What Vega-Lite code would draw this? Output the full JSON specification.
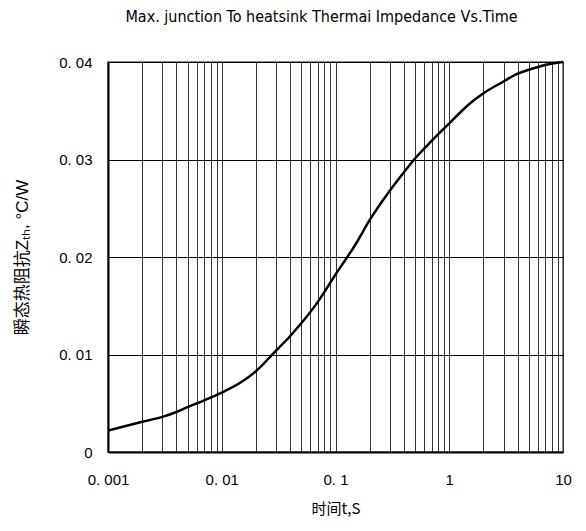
{
  "$schema": "https://vega.github.io/schema/vega-lite/v6.json",
  "width": 455,
  "height": 390,
  "autosize": "none",
  "padding": {"left": 108, "top": 62, "right": 23, "bottom": 79},
  "background": "white",
  "title": {
    "text": "Max. junction To heatsink Thermai Impedance Vs.Time",
    "font": "DejaVu Sans Condensed, Liberation Sans",
    "fontSize": 16,
    "fontWeight": "normal",
    "color": "#000000",
    "anchor": "middle",
    "dx": -14,
    "offset": 30
  },
  "config": {
    "view": {"stroke": "#888888", "strokeWidth": 2},
    "axis": {
      "labelFont": "Liberation Sans",
      "labelFontSize": 15,
      "labelColor": "#000000",
      "titleColor": "#000000",
      "titleFontWeight": "normal",
      "ticks": false,
      "domainColor": "#000000",
      "domainWidth": 2
    }
  },
  "data": {
    "values": [
      {"t": 0.001, "z": 0.0022},
      {"t": 0.002, "z": 0.0031},
      {"t": 0.003, "z": 0.0036},
      {"t": 0.004, "z": 0.0041},
      {"t": 0.005, "z": 0.0046},
      {"t": 0.007, "z": 0.0053},
      {"t": 0.01, "z": 0.0061},
      {"t": 0.015, "z": 0.0072},
      {"t": 0.02, "z": 0.0083},
      {"t": 0.03, "z": 0.0104},
      {"t": 0.04, "z": 0.0119},
      {"t": 0.05, "z": 0.0132},
      {"t": 0.07, "z": 0.0154},
      {"t": 0.1, "z": 0.0182},
      {"t": 0.15, "z": 0.0213},
      {"t": 0.2, "z": 0.0238},
      {"t": 0.3, "z": 0.0268},
      {"t": 0.4, "z": 0.0287},
      {"t": 0.5, "z": 0.0301},
      {"t": 0.7, "z": 0.0319},
      {"t": 1, "z": 0.0337},
      {"t": 1.5, "z": 0.0357},
      {"t": 2, "z": 0.0368},
      {"t": 3, "z": 0.038},
      {"t": 4, "z": 0.0388},
      {"t": 5, "z": 0.0392},
      {"t": 7, "z": 0.0397},
      {"t": 10, "z": 0.04}
    ]
  },
  "mark": {"type": "line", "color": "#000000", "strokeWidth": 2.5, "interpolate": "monotone"},
  "encoding": {
    "x": {
      "field": "t",
      "type": "quantitative",
      "scale": {"type": "log", "domain": [0.001, 10], "nice": false},
      "axis": {
        "title": "时间t,S",
        "titleFont": "Noto Sans CJK SC",
        "titleFontSize": 15,
        "titlePadding": 14,
        "labelPadding": 20,
        "values": [0.001,0.002,0.003,0.004,0.005,0.006,0.007,0.008,0.009,0.01,0.02,0.03,0.04,0.05,0.06,0.07,0.08,0.09,0.1,0.2,0.3,0.4,0.5,0.6,0.7,0.8,0.9,1,2,3,4,5,6,7,8,9,10],
        "labelExpr": "abs(log(datum.value)/LN10 - round(log(datum.value)/LN10)) < 0.000001 ? replace(format(datum.value, '~g'), '.', '. ') : ''",
        "grid": true,
        "gridColor": "#333333",
        "gridWidth": 1,
        "gridOpacity": 1,
        "labelOverlap": false,
        "labelFlush": false
      }
    },
    "y": {
      "field": "z",
      "type": "quantitative",
      "scale": {"domain": [0, 0.04], "nice": false},
      "axis": {
        "title": "瞬态热阻抗Zₜₕ, °C/W",
        "titleFont": "Liberation Sans, Noto Sans CJK SC",
        "titleFontSize": 17,
        "titleX": -86,
        "titleY": 195,
        "titleAngle": -90,
        "titleAlign": "center",
        "titleBaseline": "middle",
        "labelPadding": 16,
        "values": [0, 0.01, 0.02, 0.03, 0.04],
        "labelExpr": "datum.value == 0 ? '0' : replace(format(datum.value, '.2f'), '.', '. ')",
        "grid": true,
        "gridColor": "#000000",
        "gridWidth": 1,
        "gridOpacity": 1
      }
    }
  }
}
